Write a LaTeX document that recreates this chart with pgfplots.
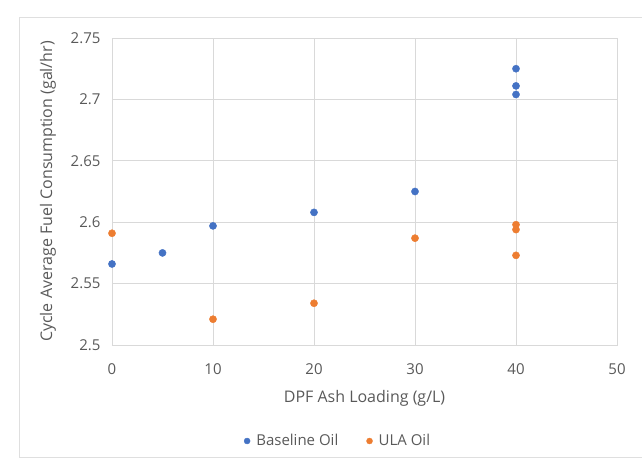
\documentclass[border=0pt]{standalone}
\usepackage{pgfplots}
\pgfplotsset{compat=1.18}
\usepackage{fontspec}
\setmainfont{Open Sans}
\definecolor{cblue}{HTML}{4472C4}
\definecolor{corange}{HTML}{ED7D31}
\definecolor{gridc}{HTML}{D9D9D9}
\definecolor{txt}{HTML}{595959}
\begin{document}
\begin{tikzpicture}[x=1pt,y=1pt]
\useasboundingbox (-112,-115) rectangle (530,345);
\draw[gray!25, line width=1pt] (-92,-112) rectangle (540,327);
\begin{axis}[
  at={(0,0)}, anchor=south west,
  scale only axis, width=505pt, height=307pt,
  xmin=0, xmax=50, ymin=2.5, ymax=2.75,
  xtick={0,10,20,30,40,50},
  ytick={2.5,2.55,2.6,2.65,2.7,2.75},
  yticklabels={2.5,2.55,2.6,2.65,2.7,2.75},
  major tick length=0pt,
  grid=major,
  grid style={gridc, line width=0.9pt},
  axis line style={gridc, line width=0.9pt},
  tick label style={font=\fontsize{15}{17}\selectfont, text=txt},
  /pgf/number format/assume math mode=true,
  xticklabel style={yshift=-15pt},
  yticklabel style={xshift=-8pt},
  xlabel={DPF Ash Loading (g/L)},
  ylabel={Cycle Average Fuel Consumption (gal/hr)},
  label style={font=\fontsize{16}{18}\selectfont, text=txt},
  xlabel style={at={(axis description cs:0.5,0)}, anchor=center, yshift=-53pt},
  ylabel style={at={(axis description cs:0,0.5)}, anchor=center, yshift=64pt},
  legend style={at={(226pt,-96pt)}, anchor=center, draw=none, fill=none,
    legend columns=2, font=\fontsize{15}{17}\selectfont, text=txt,
    /tikz/every even column/.append style={column sep=26pt}},
  legend cell align=left,
  legend image code/.code={\fill[#1] (0,0) circle (3pt); \path (7pt,0);},
  clip=false,
]
\addplot[only marks, mark=*, mark size=3.6pt, color=cblue] coordinates {
(0,2.566) (5,2.575) (10,2.597) (20,2.608) (30,2.625) (40,2.725) (40,2.711) (40,2.704)};
\addlegendentry{Baseline Oil}
\addplot[only marks, mark=*, mark size=3.6pt, color=corange] coordinates {
(0,2.591) (10,2.521) (20,2.534) (30,2.587) (40,2.598) (40,2.594) (40,2.573)};
\addlegendentry{ULA Oil}
\end{axis}
\end{tikzpicture}
\end{document}
